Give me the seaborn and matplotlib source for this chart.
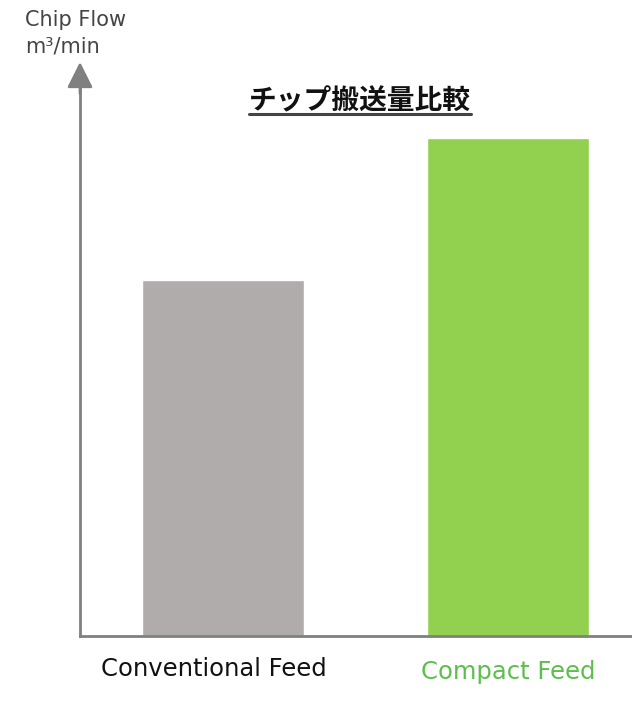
import matplotlib
matplotlib.use("Agg")
import matplotlib.pyplot as plt
from matplotlib.lines import Line2D
import seaborn as sns
import pandas as pd

categories = ["Conventional Feed", "Compact Feed"]
values = [2.5, 3.5]
bar_colors = ["#b0acab", "#92d050"]
label_colors = ["#111111", "#5cbf4c"]
title = "チップ搬送量比較"
ylabel_lines = ["Chip Flow", "m³/min"]

sns.set_theme(style="white")
plt.rcParams['font.family'] = ['DejaVu Sans', 'Noto Sans CJK JP']

W, H = 632, 712
fig = plt.figure(figsize=(W / 100, H / 100), dpi=100)
ax = fig.add_axes([80 / W, (H - 636) / H, 552 / W, 548 / H])

df = pd.DataFrame({"cat": categories, "val": values})
sns.barplot(data=df, x="cat", y="val", hue="cat", palette=bar_colors,
            width=0.57, legend=False, ax=ax, saturation=1)

ax.set_xlim(-0.503, -0.503 + 552 / 284.5)
ax.set_ylim(0, 3.5 * 548 / 498)
ax.set_xticks([])
ax.set_yticks([])
ax.set_xlabel("")
ax.set_ylabel("")
for s in ["top", "right"]:
    ax.spines[s].set_visible(False)
for s in ["left", "bottom"]:
    ax.spines[s].set_color("#808080")
    ax.spines[s].set_linewidth(2)

# arrow head on the y axis
ax.annotate("", xy=(0, 1.0 + 26 / 548), xycoords="axes fraction",
            xytext=(0, 0.99), textcoords="axes fraction",
            arrowprops=dict(arrowstyle="-|>,head_length=1.3,head_width=0.65",
                            color="#808080", lw=2, shrinkA=0, shrinkB=0),
            annotation_clip=False)

# category labels
ys = [669, 672]
for i, (c, col) in enumerate(zip(categories, label_colors)):
    xpix = [214, 508][i]
    fig.text(xpix / W, 1 - ys[i] / H, c, ha="center", va="center",
             fontsize=17.5, color=col)

# y label
fig.text(25 / W, 1 - 20 / H, ylabel_lines[0], ha="left", va="center",
         fontsize=15, color="#444444")
fig.text(25 / W, 1 - 46 / H, ylabel_lines[1], ha="left", va="center",
         fontsize=15, color="#444444")

# title with underline
t = fig.text(360 / W, 1 - 101 / H, title, ha="center", va="center",
             fontsize=20, fontweight="bold", color="#111111",
             family=['Noto Sans CJK JP', 'DejaVu Sans'])
fig.canvas.draw()
bb = t.get_window_extent()
x0, x1 = bb.x0 / W, bb.x1 / W
fig.add_artist(Line2D([x0, x1], [1 - 114 / H, 1 - 114 / H], color="#444444", lw=2.2))

fig.savefig("out.png", dpi=100)
